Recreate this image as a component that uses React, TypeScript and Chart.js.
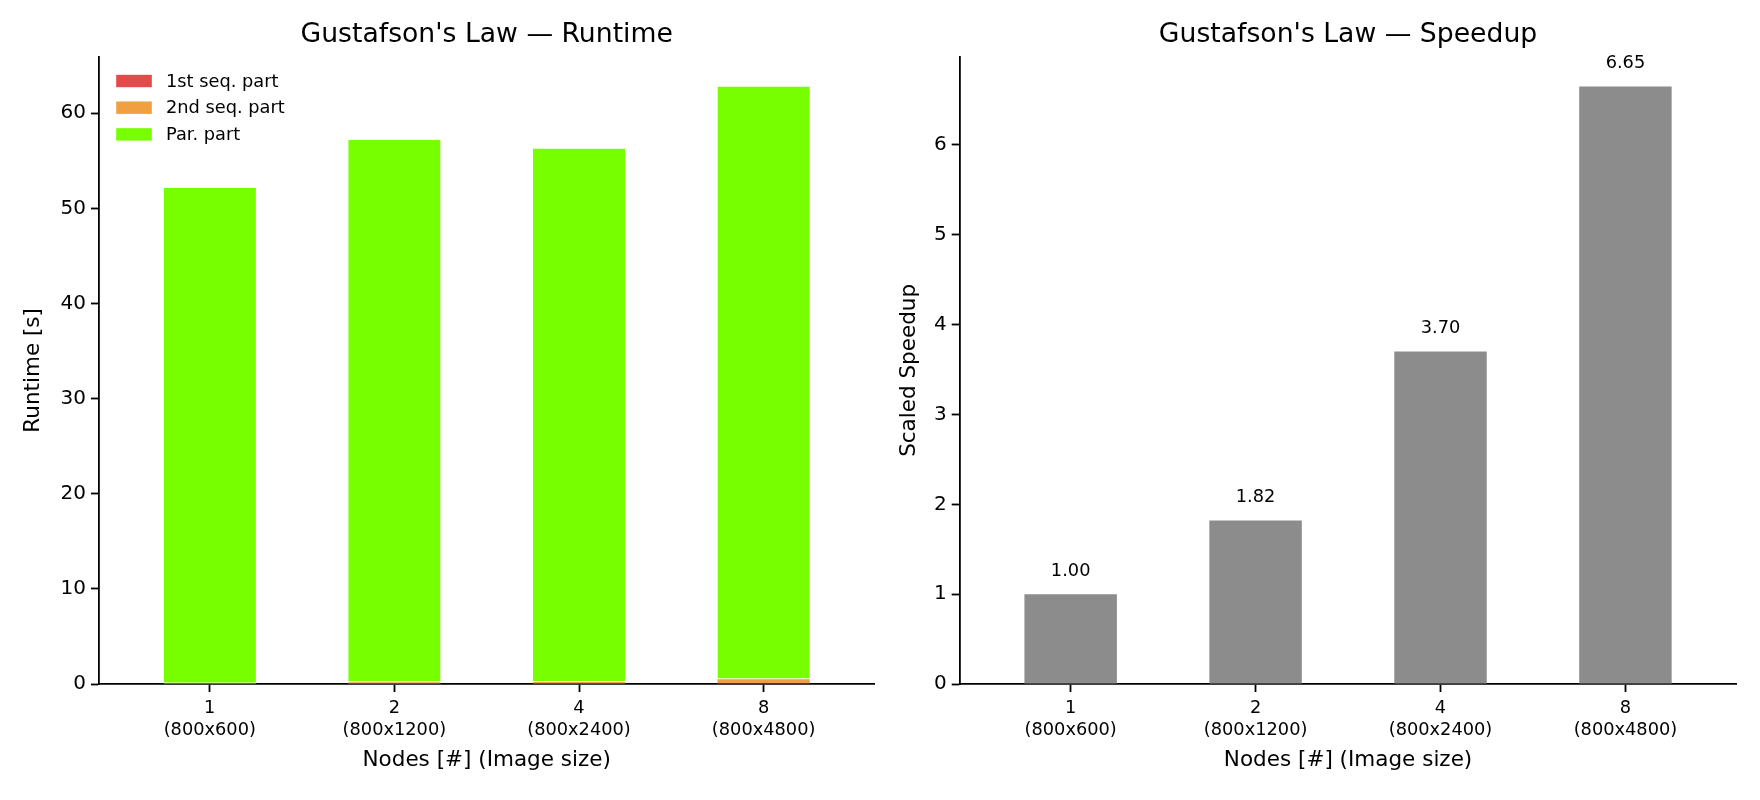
import React, { useEffect, useRef } from "react";
import { Chart, registerables } from "chart.js";

Chart.register(...registerables);

// ---- data ----
const nodeLabels = ["1", "2", "4", "8"];
const imageSizes = ["(800x600)", "(800x1200)", "(800x2400)", "(800x4800)"];
const firstSeqPart = [0.02, 0.05, 0.05, 0.08];
const secondSeqPart = [0.04, 0.14, 0.16, 0.42];
const parPart = [52.08, 57.01, 56.09, 62.3];
const scaledSpeedup = [1.0, 1.82, 3.7, 6.65];
const seriesNames = ["1st seq. part", "2nd seq. part", "Par. part"];

// ---- style ----
const FONT = "'DejaVu Sans', sans-serif";
const RED = "#e34a4a";
const ORANGE = "#f0a041";
const GREEN = "#77ff00";
const GRAY = "#8c8c8c";

const toPoints = (arr: number[]) => arr.map((v, i) => ({ x: i, y: v }));

function titlePlugin(text: string) {
  return {
    id: "mplTitle",
    afterDraw(chart: any) {
      const { ctx, chartArea } = chart;
      ctx.save();
      ctx.font = `26.67px ${FONT}`;
      ctx.fillStyle = "#000";
      ctx.textAlign = "center";
      ctx.textBaseline = "middle";
      ctx.fillText(text, (chartArea.left + chartArea.right) / 2, 35.5);
      ctx.restore();
    },
  };
}

const legendPlugin = {
  id: "mplLegend",
  afterDraw(chart: any) {
    const { ctx, chartArea } = chart;
    ctx.save();
    ctx.font = `17.8px ${FONT}`;
    ctx.textBaseline = "middle";
    ctx.textAlign = "left";
    chart.data.datasets.forEach((ds: any, i: number) => {
      const cy = chartArea.top + 24.3 + i * 26.7;
      ctx.fillStyle = ds.backgroundColor;
      ctx.fillRect(chartArea.left + 17.2, cy - 6.2, 35.6, 12.4);
      ctx.fillStyle = "#000";
      ctx.fillText(ds.label, chartArea.left + 67, cy + 1);
    });
    ctx.restore();
  },
};

const barLabelPlugin = {
  id: "barLabels",
  afterDatasetsDraw(chart: any) {
    const { ctx } = chart;
    const meta = chart.getDatasetMeta(0);
    const data = chart.data.datasets[0].data;
    ctx.save();
    ctx.font = `17.8px ${FONT}`;
    ctx.fillStyle = "#000";
    ctx.textAlign = "center";
    ctx.textBaseline = "middle";
    meta.data.forEach((el: any, i: number) => {
      ctx.fillText(data[i].y.toFixed(2), el.x, el.y - 23);
    });
    ctx.restore();
  },
};

function xScale(areaBottomHeight: number) {
  return {
    type: "linear",
    stacked: true,
    min: -0.6,
    max: 3.6,
    offset: false,
    z: 1,
    afterBuildTicks: (s: any) => {
      s.ticks = nodeLabels.map((_, i) => ({ value: i }));
    },
    afterFit: (s: any) => {
      s.height = areaBottomHeight;
    },
    grid: {
      display: true,
      drawOnChartArea: false,
      drawTicks: true,
      tickLength: 8,
      tickWidth: 1.8,
      tickColor: "#000",
      offset: false,
    },
    border: { display: true, color: "#000", width: 1.8 },
    ticks: {
      callback: (v: any) => [nodeLabels[v], imageSizes[v]],
      font: { family: FONT, size: 17.8, lineHeight: 1.25 },
      color: "#000",
      padding: 5,
      maxRotation: 0,
      autoSkip: false,
    },
    title: {
      display: true,
      text: "Nodes [#] (Image size)",
      font: { family: FONT, size: 21.5 },
      color: "#000",
      padding: { top: 0, bottom: 27 },
    },
  };
}

function yScale(max: number, step: number, width: number, title: string, titlePad: number) {
  return {
    type: "linear",
    stacked: true,
    min: 0,
    max,
    z: 1,
    afterFit: (s: any) => {
      s.width = width;
    },
    grid: {
      display: true,
      drawOnChartArea: false,
      drawTicks: true,
      tickLength: 8,
      tickWidth: 1.8,
      tickColor: "#000",
    },
    border: { display: true, color: "#000", width: 1.8 },
    ticks: {
      stepSize: step,
      includeBounds: false,
      font: { family: FONT, size: 20 },
      color: "#000",
      padding: 5,
    },
    title: {
      display: true,
      text: title,
      font: { family: FONT, size: 21.5 },
      color: "#000",
      padding: { top: titlePad, bottom: 0 },
    },
  };
}

function RuntimeChart() {
  const ref = useRef<HTMLCanvasElement>(null);
  useEffect(() => {
    const chart = new Chart(ref.current as HTMLCanvasElement, {
      type: "bar",
      data: {
        datasets: [
          { label: seriesNames[0], data: toPoints(firstSeqPart), backgroundColor: RED, borderWidth: 0 },
          { label: seriesNames[1], data: toPoints(secondSeqPart), backgroundColor: ORANGE, borderWidth: 0 },
          {
            label: seriesNames[2],
            data: toPoints(parPart),
            backgroundColor: GREEN,
            borderColor: "#ffffff",
            borderWidth: { top: 0, left: 0, right: 0, bottom: 1 },
            borderSkipped: false,
          },
        ] as any,
      },
      options: {
        responsive: false,
        animation: false,
        layout: { padding: { top: 56.7, right: 5.6, left: 0, bottom: 0 } },
        plugins: { legend: { display: false }, title: { display: false }, tooltip: { enabled: false } },
        datasets: { bar: { barPercentage: 0.5, categoryPercentage: 1 } },
        scales: {
          x: xScale(116),
          y: yScale(65.94, 10, 99, "Runtime [s]", 20.8),
        } as any,
      },
      plugins: [titlePlugin("Gustafson's Law \u2014 Runtime"), legendPlugin],
    });
    return () => chart.destroy();
  }, []);
  return (
    <canvas
      ref={ref}
      width={880}
      height={800}
      style={{ position: "absolute", left: 0, top: 0, width: 880, height: 800 }}
    />
  );
}

function SpeedupChart() {
  const ref = useRef<HTMLCanvasElement>(null);
  useEffect(() => {
    const chart = new Chart(ref.current as HTMLCanvasElement, {
      type: "bar",
      data: {
        datasets: [
          { label: "Scaled Speedup", data: toPoints(scaledSpeedup), backgroundColor: GRAY, borderWidth: 0 },
        ] as any,
      },
      options: {
        responsive: false,
        animation: false,
        layout: { padding: { top: 56.7, right: 23.6, left: 0, bottom: 0 } },
        plugins: { legend: { display: false }, title: { display: false }, tooltip: { enabled: false } },
        datasets: { bar: { barPercentage: 0.5, categoryPercentage: 1 } },
        scales: {
          x: xScale(116),
          y: yScale(6.9825, 1, 79.7, "Scaled Speedup", 16.1),
        } as any,
      },
      plugins: [titlePlugin("Gustafson's Law \u2014 Speedup"), barLabelPlugin],
    });
    return () => chart.destroy();
  }, []);
  return (
    <canvas
      ref={ref}
      width={880}
      height={800}
      style={{ position: "absolute", left: 880, top: 0, width: 880, height: 800 }}
    />
  );
}

export default function App() {
  return (
    <div style={{ position: "absolute", left: 0, top: 0, width: 1760, height: 800, background: "#fff" }}>
      <RuntimeChart />
      <SpeedupChart />
    </div>
  );
}
